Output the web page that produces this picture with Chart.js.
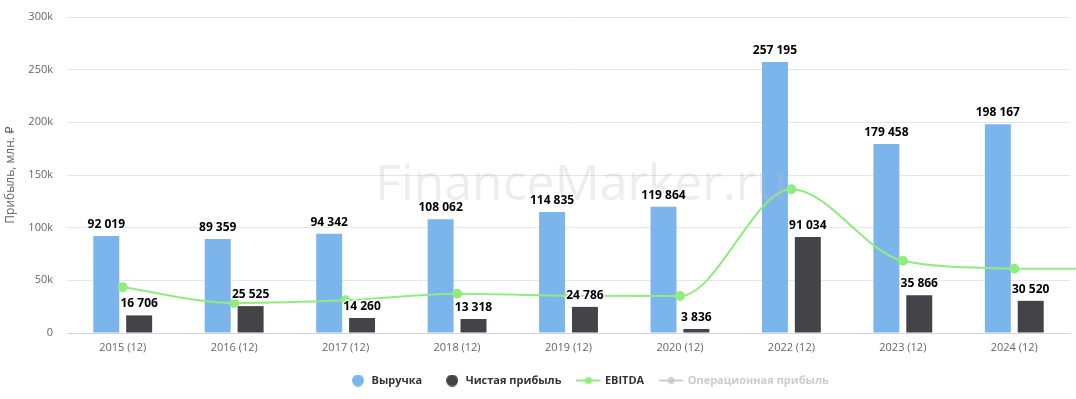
<!DOCTYPE html>
<html>
<head>
<meta charset="utf-8">
<script src="https://cdn.jsdelivr.net/npm/chart.js@4/dist/chart.umd.min.js"></script>
<style>
    html, body { margin: 0; padding: 0; background: #fff; }
    #wrap { width: 1076px; height: 399px; }
</style>
</head>
<body>
<div id="wrap"><canvas id="finChart"></canvas></div>
<script>
const years = ['2015 (12)', '2016 (12)', '2017 (12)', '2018 (12)', '2019 (12)', '2020 (12)', '2022 (12)', '2023 (12)', '2024 (12)'];
const revenue = [92019, 89359, 94342, 108062, 114835, 119864, 257195, 179458, 198167];
const netProfit = [16706, 25525, 14260, 13318, 24786, 3836, 91034, 35866, 30520];
const ebitda = [43400, 28500, 31000, 37300, 35400, 35100, 136400, 68600, 61000];
const opProfit = [];
const yTicks = [0, 50000, 100000, 150000, 200000, 250000, 300000];

const FONT = '"Open Sans", "DejaVu Sans", sans-serif';

function fmt(v) {
    return String(v).replace(/\B(?=(\d{3})+(?!\d))/g, ' ');
}

// legend symbols as small canvases
function dotSymbol(color) {
    const c = document.createElement('canvas');
    c.width = 12; c.height = 12;
    const g = c.getContext('2d');
    g.fillStyle = color;
    g.beginPath(); g.arc(6, 6, 6, 0, Math.PI * 2); g.fill();
    return c;
}

function lineSymbol(color) {
    // wider than the box on the left so the line ends just before the text
    const c = document.createElement('canvas');
    c.width = 30; c.height = 10;
    const g = c.getContext('2d');
    g.strokeStyle = color; g.lineWidth = 2;
    g.beginPath(); g.moveTo(0, 5); g.lineTo(24, 5); g.stroke();
    g.fillStyle = color;
    g.beginPath(); g.arc(12, 5, 3.5, 0, Math.PI * 2); g.fill();
    return c;
}

const extras = {
    id: 'extras',
    afterLayout(chart) {
        if (chart.legend) chart.legend.left = 328;
    },
    afterDatasetsDraw(chart) {
        const ctx = chart.ctx;
        const area = chart.chartArea;
        // EBITDA line runs on to the edge of the plot
        const meta = chart.getDatasetMeta(2);
        const last = meta.data[meta.data.length - 1];
        ctx.save();
        ctx.beginPath();
        ctx.rect(area.left, area.top, chart.width - area.left, area.bottom - area.top);
        ctx.clip();
        ctx.strokeStyle = '#90ed7d';
        ctx.lineWidth = 2;
        ctx.beginPath();
        ctx.moveTo(last.x, last.y);
        ctx.lineTo(chart.width, last.y);
        ctx.stroke();
        ctx.restore();

        // watermark
        ctx.save();
        ctx.font = '50px ' + FONT;
        ctx.fillStyle = 'rgba(190,190,190,0.28)';
        ctx.textAlign = 'center';
        ctx.textBaseline = 'alphabetic';
        ctx.fillText('FinanceMarker.ru', 581, 200);
        ctx.restore();

        // data labels on bars
        ctx.save();
        ctx.font = 'bold 12px ' + FONT;
        ctx.textAlign = 'center';
        ctx.textBaseline = 'alphabetic';
        ctx.lineJoin = 'round';
        [0, 1].forEach(di => {
            const m = chart.getDatasetMeta(di);
            if (m.hidden) return;
            m.data.forEach((bar, i) => {
                const txt = fmt(chart.data.datasets[di].data[i]);
                ctx.strokeStyle = '#fff';
                ctx.lineWidth = 3;
                ctx.strokeText(txt, bar.x, bar.y - 8);
                ctx.fillStyle = '#000';
                ctx.fillText(txt, bar.x, bar.y - 8);
            });
        });
        ctx.restore();
    }
};

new Chart(document.getElementById('finChart'), {
    type: 'bar',
    data: {
        labels: years,
        datasets: [
            { label: 'Выручка', data: revenue, backgroundColor: '#7cb5ec', categoryPercentage: 0.59, barPercentage: 0.79, order: 2 },
            { label: 'Чистая прибыль', data: netProfit, backgroundColor: '#434348', categoryPercentage: 0.59, barPercentage: 0.79, order: 2 },
            { type: 'line', label: 'EBITDA', data: ebitda, borderColor: '#90ed7d', backgroundColor: '#90ed7d', borderWidth: 2, cubicInterpolationMode: 'monotone', pointRadius: 4, pointHoverRadius: 4, order: 1 },
            { type: 'line', label: 'Операционная прибыль', data: opProfit, borderColor: '#cccccc', backgroundColor: '#cccccc', hidden: true, order: 1 }
        ]
    },
    options: {
        responsive: true,
        maintainAspectRatio: false,
        animation: false,
        layout: { padding: { top: 17, right: 3, left: 3, bottom: 3 } },
        plugins: {
            tooltip: { enabled: false },
            legend: {
                position: 'bottom',
                align: 'start',
                labels: {
                    usePointStyle: true,
                    pointStyleWidth: 16,
                    boxHeight: 12,
                    padding: 22,
                    font: { family: FONT, size: 11, weight: 'bold' },
                    generateLabels(chart) {
                        return chart.data.datasets.map((ds, i) => {
                            const isLine = ds.type === 'line';
                            const hidden = !chart.isDatasetVisible(i);
                            const col = hidden ? '#cccccc' : ds.backgroundColor;
                            return {
                                text: ds.label,
                                datasetIndex: i,
                                hidden: false,
                                fontColor: hidden ? '#cccccc' : '#333333',
                                fillStyle: col,
                                strokeStyle: col,
                                lineWidth: 0,
                                pointStyle: isLine ? lineSymbol(col) : dotSymbol(col)
                            };
                        });
                    }
                }
            }
        },
        scales: {
            x: {
                grid: { display: false, drawTicks: false },
                border: { color: '#ccd6eb' },
                ticks: { color: '#666', font: { family: FONT, size: 11 }, padding: 8 },
                afterFit(s) { s.height = 20; }
            },
            y: {
                min: 0,
                max: 300000,
                afterBuildTicks(s) { s.ticks = yTicks.map(v => ({ value: v })); },
                grid: { color: '#e6e6e6', drawTicks: false },
                border: { display: false },
                ticks: {
                    color: '#666',
                    padding: 14,
                    font: { family: FONT, size: 11 },
                    callback: v => v === 0 ? '0' : (v / 1000) + 'k'
                },
                title: { display: true, text: 'Прибыль, млн. ₽', color: '#666', font: { family: FONT, size: 12 }, padding: 0 },
                afterFit(s) { s.width = 64; s.paddingTop = 0; s.paddingBottom = 0; }
            }
        }
    },
    plugins: [extras]
});
</script>
</body>
</html>
